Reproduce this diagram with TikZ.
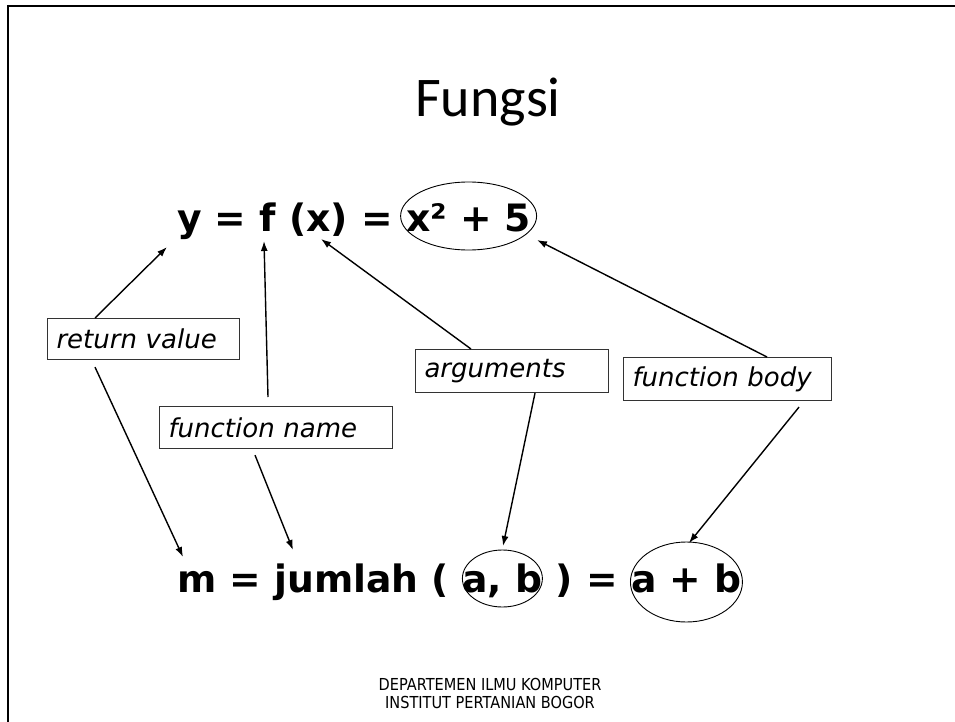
\documentclass[tikz,border=0pt]{standalone}
\usepackage{fontspec}
\usetikzlibrary{shapes.geometric,arrows.meta}
\newfontfamily\titlefont{Carlito}
\newfontfamily\vfont{DejaVu Sans}
\newfontfamily\footfont[FakeStretch=0.88]{DejaVu Sans}
\newcommand\gapsp{\kern0.348em}
\begin{document}
\begin{tikzpicture}[x=1pt,y=-1pt,
  eq/.style={font=\vfont\bfseries\fontsize{37.7}{44}\selectfont, inner sep=0pt},
  lbl/.style={draw=black!80, line width=1.1pt, font=\vfont\itshape\fontsize{26}{30}\selectfont, inner xsep=9pt, inner ysep=0pt, align=left, anchor=north west},
  ring/.style={draw, ellipse, line width=0.9pt, inner sep=0pt},
  arr/.style={-{Latex[length=10pt,width=7pt]}, line width=1.4pt},
  foot/.style={font=\footfont\fontsize{16.5}{18}\selectfont, anchor=base, inner sep=0pt},
]
\useasboundingbox (0,0) rectangle (955,722);
\fill[white] (0,0) rectangle (955,722);
\draw[line width=2.4pt] (8,6) -- (955,6);
\draw[line width=2.4pt] (8,5) -- (8,722);

\node[font=\titlefont\fontsize{56}{60}\selectfont, anchor=base, inner sep=0pt] (title) at (488,117) {Fungsi};

% line 1
\node[eq, anchor=base west] (l1a) at (177,231) {y = f (x) =\gapsp};
\node[eq, anchor=base west] (l1b) at (l1a.base east) {x² + 5};
\node[ring, minimum width=136pt, minimum height=68pt] (e1) at ([yshift=15pt]l1b.base) {};

% line 2
\node[eq, anchor=base west] (l2a) at (177,592) {m = jumlah (\gapsp};
\node[eq, anchor=base west] (l2b) at (l2a.base east) {a, b};
\node[eq, anchor=base west] (l2c) at (l2b.base east) {\gapsp) =\gapsp};
\node[eq, anchor=base west] (l2d) at (l2c.base east) {a + b};
\node[ring, minimum width=80pt, minimum height=57pt] (e2) at ([yshift=13.5pt]l2b.base) {};
\node[ring, minimum width=112pt, minimum height=80pt] (e3) at ([yshift=10pt]l2d.base) {};

% label boxes
\node[lbl, minimum height=41pt, text width=174pt] (ret) at (47,318) {return value};
\node[lbl, minimum height=42pt, text width=215pt] (fname) at (159,406) {function name};
\node[lbl, minimum height=43pt, text width=175pt] (args) at (415,349) {arguments};
\node[lbl, minimum height=43pt, text width=190pt] (fbody) at (623,357) {function body};

% arrow tips
\coordinate (tY) at (167,247);
\coordinate (tF) at (264,241);
\coordinate (tX) at (321,239);
\coordinate (tB) at (537,240);
\coordinate (tM) at (183,557);
\coordinate (tJ) at (293,550);
\coordinate (tAB) at (503,546);
\coordinate (tAP) at (689,543);

\draw[arr] ([xshift=48pt]ret.north west) -- (tY);
\draw[arr] ([xshift=48pt,yshift=-7pt]ret.south west) -- (tM);
\draw[arr] ([xshift=109pt,yshift=9pt]fname.north west) -- (tF);
\draw[arr] ([xshift=96pt,yshift=-6pt]fname.south west) -- (tJ);
\draw[arr] ([xshift=56pt]args.north west) -- (tX);
\draw[arr] ([xshift=120pt]args.south west) -- (tAB);
\draw[arr] ([xshift=144pt]fbody.north west) -- (tB);
\draw[arr] ([xshift=176pt,yshift=-6pt]fbody.south west) -- (tAP);

% footer
\node[foot] (foot1) at (490,690) {DEPARTEMEN ILMU KOMPUTER};
\node[foot] (foot2) at (490,708) {INSTITUT PERTANIAN BOGOR};
\end{tikzpicture}
\end{document}
